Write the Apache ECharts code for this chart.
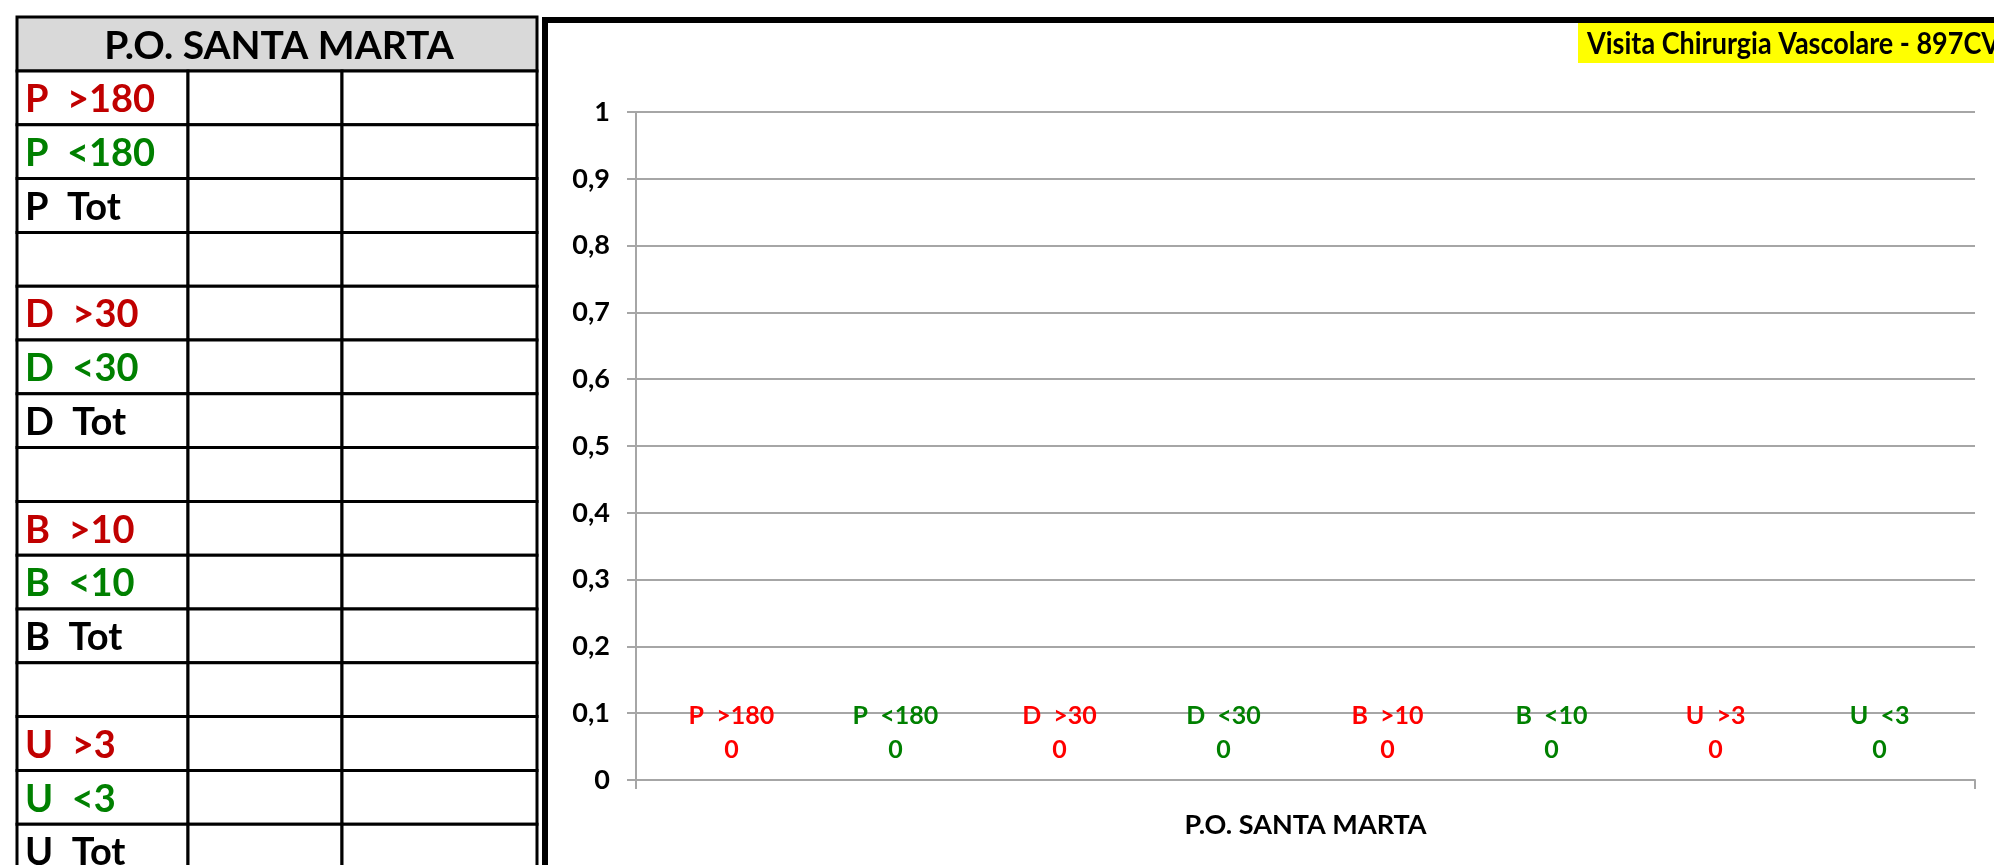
<!DOCTYPE html>
<html><head><meta charset="utf-8">
<script src="https://cdn.jsdelivr.net/npm/echarts@6/dist/echarts.min.js"></script>
<style>html,body{margin:0;padding:0;background:#fff;overflow:hidden}#c{width:1994px;height:865px}</style>
</head><body><div id="c"></div>
<script>
// ---- data ----
const categories = ['P.O. SANTA MARTA'];
const seriesNames = ['P  >180', 'P  <180', 'D  >30', 'D  <30', 'B  >10', 'B  <10', 'U  >3', 'U  <3'];
const seriesValues = [[0], [0], [0], [0], [0], [0], [0], [0]];
const seriesColors = ['#ff0000', '#008000', '#ff0000', '#008000', '#ff0000', '#008000', '#ff0000', '#008000'];
const yMin = 0, yMax = 1, yInterval = 0.1;
const chartTitle = 'Visita Chirurgia Vascolare - 897CV';
const tableTitle = 'P.O. SANTA MARTA';
const tableRows = ['P  >180', 'P  <180', 'P  Tot', '', 'D  >30', 'D  <30', 'D  Tot', '', 'B  >10', 'B  <10', 'B  Tot', '', 'U  >3', 'U  <3', 'U  Tot'];
const tableRowColors = ['#c00000', '#008000', '#000000', '#000000', '#c00000', '#008000', '#000000', '#000000', '#c00000', '#008000', '#000000', '#000000', '#c00000', '#008000', '#000000'];

// ---- layout ----
const FONT = 'Lato, "Open Sans", sans-serif';
const T = { x0: 17, x1: 537, cols: [17, 188, 342, 537], top: 17, headBottom: 71, rowH: 53.8 };

const graphics = [];
// chart frame
graphics.push({ type: 'rect', z: -10, shape: { x: 545, y: 20, width: 1500, height: 900 },
  style: { fill: '#fff', stroke: '#000', lineWidth: 6 } });
// title box
graphics.push({ type: 'rect', z: 5, shape: { x: 1578, y: 23, width: 420, height: 40 }, style: { fill: '#ffff00' } });
graphics.push({ type: 'text', z: 6, x: 1587, y: 44, scaleX: 0.9, style: { text: chartTitle, fill: '#000', font: 'bold 30px ' + FONT, verticalAlign: 'middle', align: 'left' } });
// table header
graphics.push({ type: 'rect', z: 5, shape: { x: T.x0, y: T.top, width: T.x1 - T.x0, height: T.headBottom - T.top },
  style: { fill: '#d9d9d9', stroke: '#000', lineWidth: 3 } });
graphics.push({ type: 'text', z: 6, x: (T.x0 + T.x1) / 2 + 2, y: (T.top + T.headBottom) / 2 + 2,
  style: { text: tableTitle, fill: '#000', font: 'bold 39px ' + FONT, align: 'center', verticalAlign: 'middle' } });
// table rows
tableRows.forEach((lab, i) => {
  const y = T.headBottom + i * T.rowH;
  for (let c = 0; c < 3; c++) {
    graphics.push({ type: 'rect', z: 5, shape: { x: T.cols[c], y: y, width: T.cols[c + 1] - T.cols[c], height: T.rowH },
      style: { fill: '#fff', stroke: '#000', lineWidth: 3 } });
  }
  if (lab) graphics.push({ type: 'text', z: 6, x: 25, y: y + T.rowH / 2 + 2,
    style: { text: lab, fill: tableRowColors[i], font: 'bold 38px ' + FONT, align: 'left', verticalAlign: 'middle' } });
});

const series = seriesNames.map((n, i) => ({
  type: 'bar', name: n, data: seriesValues[i],
  barGap: '0%', barCategoryGap: '2%',
  itemStyle: { color: seriesColors[i] },
  label: { show: true, position: 'top', distance: 13, formatter: '{a}\n{c}',
    color: seriesColors[i], fontFamily: FONT, fontWeight: 'bold', fontSize: 25, lineHeight: 34 }
}));

const chart = echarts.init(document.getElementById('c'), null, { renderer: 'canvas' });
chart.setOption({
  animation: false,
  backgroundColor: '#fff',
  grid: { left: 636, top: 112, right: 19, bottom: 85, containLabel: false },
  xAxis: { type: 'category', data: categories,
    axisLine: { show: true, lineStyle: { color: '#a6a6a6', width: 2 } },
    axisTick: { show: true, length: 9, lineStyle: { color: '#a6a6a6', width: 2 } },
    axisLabel: { margin: 32, color: '#000', fontFamily: FONT, fontWeight: 'bold', fontSize: 27 } },
  yAxis: { type: 'value', min: yMin, max: yMax, interval: yInterval,
    axisLine: { show: true, lineStyle: { color: '#a6a6a6', width: 2 } },
    axisTick: { show: true, length: 9, lineStyle: { color: '#a6a6a6', width: 2 } },
    splitLine: { show: true, lineStyle: { color: '#a6a6a6', width: 2 } },
    axisLabel: { margin: 26, color: '#000', fontFamily: FONT, fontWeight: 'bold', fontSize: 27,
      formatter: v => String(Math.round(v * 10) / 10).replace('.', ',') } },
  series: series,
  graphic: graphics
});
</script></body></html>
